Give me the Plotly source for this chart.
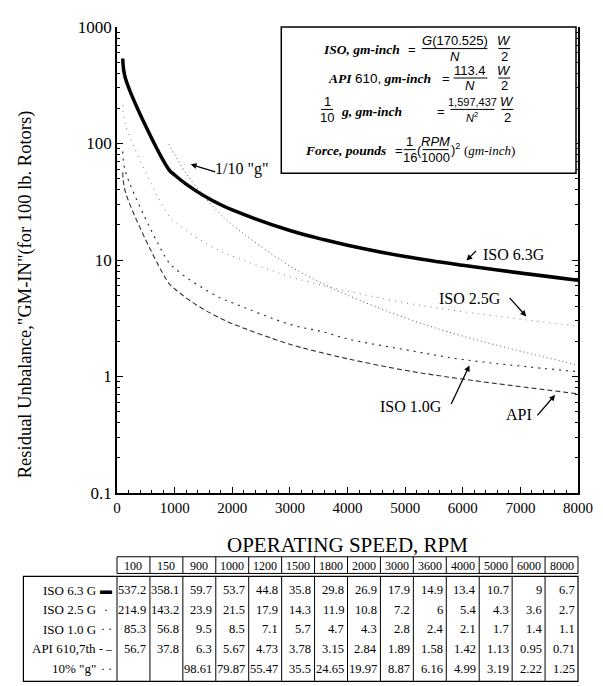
import plotly.graph_objects as go

# ---------------- data ----------------
rpm = [100, 150, 900, 1000, 1200, 1500, 1800, 2000, 3000, 3600, 4000, 5000, 6000, 8000]
iso_63 = [537.2, 358.1, 59.7, 53.7, 44.8, 35.8, 29.8, 26.9, 17.9, 14.9, 13.4, 10.7, 9, 6.7]
iso_25 = [214.9, 143.2, 23.9, 21.5, 17.9, 14.3, 11.9, 10.8, 7.2, 6, 5.4, 4.3, 3.6, 2.7]
iso_10 = [85.3, 56.8, 9.5, 8.5, 7.1, 5.7, 4.7, 4.3, 2.8, 2.4, 2.1, 1.7, 1.4, 1.1]
api_610 = [56.7, 37.8, 6.3, 5.67, 4.73, 3.78, 3.15, 2.84, 1.89, 1.58, 1.42, 1.13, 0.95, 0.71]
tenth_g = [None, None, 98.61, 79.87, 55.47, 35.5, 24.65, 19.97, 8.87, 6.16, 4.99, 3.19, 2.22, 1.25]

table_names = ["ISO 6.3 G", "ISO 2.5 G", "ISO 1.0 G", "API 610,7th", '10% "g"']
table_symbols = ["\u25ac", "\u00b7", "\u00b7 \u00b7", "- \u2013", "\u00b7 \u00b7"]
table_rows = [iso_63, iso_25, iso_10, api_610, tenth_g]

y_tickvals = [0.1, 1, 10, 100, 1000]
y_ticktext = ["0.1", "1", "10", "100", "1000"]
y_minor_tickvals = [m * 10.0 ** e for e in range(-1, 3) for m in range(2, 10)]
x_tickvals = [0, 1000, 2000, 3000, 4000, 5000, 6000, 7000, 8000]

# ---------------- layout geometry (page pixels) ----------------
OFF = 8                      # browser default body margin
PW, PH = 603, 686            # page size
W, H = PW - OFF, PH - OFF    # figure size
L, R, T, B = 117, 580, 18, 493   # plot area in page pixels


def px(x):
    return (x - L) / (R - L)


def py(y):
    return (B - y) / (B - T)


SERIF = "Liberation Serif"
SANS = "Liberation Sans"

fig = go.Figure()

styles = [
    (iso_63, "ISO 6.3G", dict(color="black", width=3.5, dash="solid")),
    (iso_25, "ISO 2.5G", dict(color="#777777", width=1, dash="1px,5px")),
    (iso_10, "ISO 1.0G", dict(color="#333333", width=1.2, dash="2px,5px")),
    (api_610, "API 610", dict(color="#333333", width=1.1, dash="5px,3px")),
    (tenth_g, '1/10 "g"', dict(color="#555555", width=1, dash="1px,3px")),
]
for ys, name, ln in styles:
    ln["shape"] = "spline"
    ln["smoothing"] = 1.0
    fig.add_trace(go.Scatter(x=rpm, y=ys, mode="lines", name=name, line=ln,
                             connectgaps=False, showlegend=False, hoverinfo="skip"))

annotations = []
shapes = []


def ftext(text, x, y, anchor="center", fam=SERIF, size=13, angle=0):
    annotations.append(dict(text=text, x=px(x), y=py(y), xref="paper", yref="paper",
                            showarrow=False, xanchor=anchor, yanchor="middle",
                            textangle=angle,
                            font=dict(family=fam, size=size, color="black")))


# axis titles
ftext('Residual Unbalance,"GM-IN"(for 100 lb. Rotors)', 25, 290, size=18.5, angle=-90)
ftext("OPERATING SPEED, RPM", 348, 546, size=21)

# curve labels with arrows
labels = [
    ('1/10 "g"', (243, 163), (217, 166), (191, 158)),
    ("ISO 6.3G", (516, 250), (479, 245), (468, 256)),
    ("ISO 2.5G", (472, 295), (510, 293), (528, 313)),
    ("ISO 1.0G", (412, 405), (452, 403), (471, 363)),
    ("API", (521, 413), (538, 415), (557, 393)),
]
for txt, (tx, ty), (ax0, ay0), (hx, hy) in labels:
    ftext(txt, tx, ty, size=16)
    annotations.append(dict(text="", x=px(hx), y=py(hy), xref="paper", yref="paper",
                            ax=ax0 - hx, ay=ay0 - hy, axref="pixel", ayref="pixel",
                            showarrow=True, arrowhead=2, arrowsize=0.9, arrowwidth=1.3,
                            arrowcolor="black", standoff=0))

# formula box
shapes.append(dict(type="rect", xref="paper", yref="paper",
                   x0=px(282), x1=px(578), y0=py(167), y1=py(18),
                   line=dict(color="black", width=1.5), fillcolor="white", layer="above"))


def bar(x0, x1, y):
    shapes.append(dict(type="line", xref="paper", yref="paper",
                       x0=px(x0), x1=px(x1), y0=py(y), y1=py(y),
                       line=dict(color="black", width=1), layer="above"))


def frac(num, den, cx, yb, half, fam=SANS, size=13):
    ftext(num, cx, yb - 8, fam=fam, size=size)
    bar(cx - half, cx + half, yb)
    ftext(den, cx, yb + 8, fam=fam, size=size)


# line 1
ftext("<b><i>ISO, gm-inch</i></b>", 322, 41, anchor="left", size=13.5)
ftext("=", 413, 41, fam=SANS)
frac("<i>G</i>(170.525)", "<i>N</i>", 456, 40, 33)
frac("<i>W</i>", "2", 506, 40, 6)
# line 2
ftext("<b><i>API</i></b> <span style='font-family:Liberation Sans'>610,</span> <b><i>gm-inch</i></b>",
      327, 71, anchor="left", size=13.5)
ftext("=", 447, 71, fam=SANS)
frac("113.4", "<i>N</i>", 472, 70, 17)
frac("<i>W</i>", "2", 506, 70, 6)
# line 3
frac("1", "10", 328, 102, 6)
ftext("<b><i>g, gm-inch</i></b>", 340, 104, anchor="left", size=13.5)
ftext("=", 442, 104, fam=SANS)
frac("1,597,437", "<i>N</i><sup>2</sup>", 474, 102, 22, size=11)
frac("<i>W</i>", "2", 509, 102, 6)
# line 4
ftext("<b><i>Force, pounds</i></b>", 304, 144, anchor="left", size=13.5)
ftext("=", 400, 144, fam=SANS)
frac("1", "16", 411, 143, 6)
ftext("(", 421, 144, fam=SANS)
frac("<i>RPM</i>", "1000", 437, 143, 13)
ftext(")<sup>2</sup>", 450, 142, anchor="left", fam=SANS)
ftext("(<i>gm-inch</i>)", 463, 144, anchor="left")

# ---------------- table ----------------
ncol = len(rpm)
col_w = (R - L) / ncol
edges = [L + i * col_w for i in range(ncol + 1)]

# header row
hy0, hy1 = 558, 575
shapes.append(dict(type="rect", xref="paper", yref="paper", x0=px(L), x1=px(R),
                   y0=py(hy1), y1=py(hy0), line=dict(color="black", width=1)))
for e in edges[1:-1]:
    shapes.append(dict(type="line", xref="paper", yref="paper", x0=px(e), x1=px(e),
                       y0=py(hy1), y1=py(hy0), line=dict(color="black", width=1)))
for i, r in enumerate(rpm):
    ftext(str(r), (edges[i] + edges[i + 1]) / 2, (hy0 + hy1) / 2 + 0.5, size=12)

# data rows
ty0, ty1 = 578, 685
lx = 23
shapes.append(dict(type="rect", xref="paper", yref="paper", x0=px(lx), x1=px(R),
                   y0=py(ty1), y1=py(ty0), line=dict(color="black", width=1.2)))
for e in edges[:-1]:
    shapes.append(dict(type="line", xref="paper", yref="paper", x0=px(e), x1=px(e),
                       y0=py(ty1), y1=py(ty0), line=dict(color="black", width=1)))
row_h = 20
for j, (nm, sym, vals) in enumerate(zip(table_names, table_symbols, table_rows)):
    yc = 582 + row_h * (j + 0.5)
    ftext(nm, 98, yc, anchor="right", size=13)
    ftext(sym, 106, yc, anchor="center", size=12)
    for i, v in enumerate(vals):
        if v is None:
            continue
        ftext(f"{v:g}", edges[i + 1] - 1.5, yc, anchor="right", size=12.5)

fig.update_layout(
    width=W, height=H,
    margin=dict(l=L - OFF, r=PW - R, t=T - OFF, b=PH - B),
    paper_bgcolor="white", plot_bgcolor="white",
    annotations=annotations, shapes=shapes,
    showlegend=False,
    xaxis=dict(range=[0, 8000], tickvals=x_tickvals, ticks="inside", ticklen=6,
               tickcolor="black", showline=True, linecolor="black", linewidth=1.5,
               showgrid=False, zeroline=False,
               tickfont=dict(family=SERIF, size=15, color="black"),
               minor=dict(ticks="inside", ticklen=3, dtick=200, tickcolor="black", showgrid=False)),
    yaxis=dict(type="log", range=[-1, 3], tickvals=y_tickvals, ticktext=y_ticktext,
               ticks="inside", ticklen=6, tickcolor="black", showline=True,
               linecolor="black", linewidth=1.5, mirror="ticks", showgrid=False,
               zeroline=False, tickfont=dict(family=SERIF, size=17, color="black"),
               minor=dict(ticks="inside", ticklen=3, tickvals=y_minor_tickvals,
                          tickcolor="black", showgrid=False)),
)

fig.write_html("out.html")
